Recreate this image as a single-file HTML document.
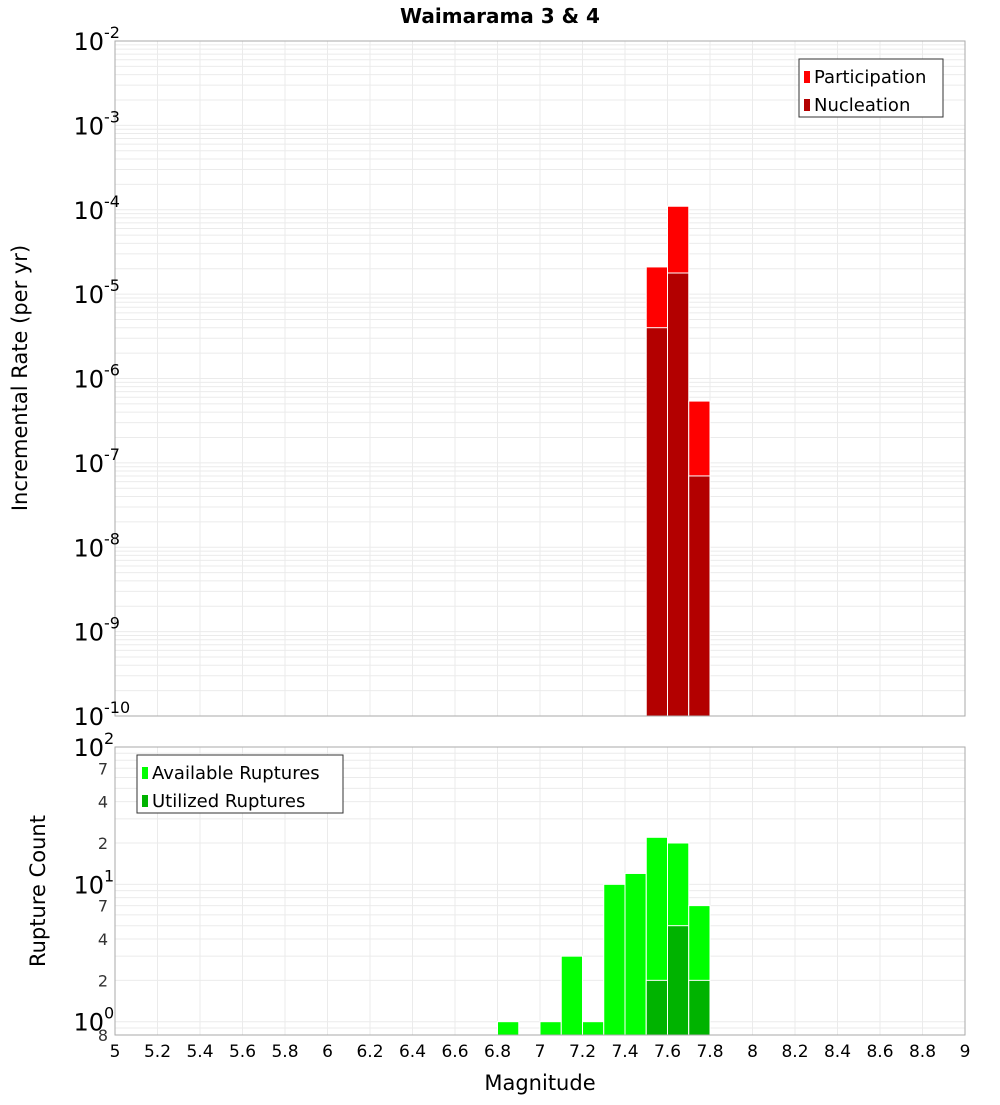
<!DOCTYPE html>
<html><head><meta charset="utf-8"><style>
body{margin:0;background:#fff;font-family:"Liberation Sans","DejaVu Sans",sans-serif}
svg text{font-family:"DejaVu Sans","Liberation Sans",sans-serif}
</style></head><body>
<svg id="c" width="1000" height="1100" xmlns="http://www.w3.org/2000/svg">
<text x="500" y="23" text-anchor="middle" font-size="20" font-weight="bold">Waimarama 3 &amp; 4</text>
<g id="topg"></g><g id="botg"></g>
<text x="540" y="1090" text-anchor="middle" font-size="21">Magnitude</text>
<text transform="translate(27,378) rotate(-90)" text-anchor="middle" font-size="21">Incremental Rate (per yr)</text>
<text transform="translate(45,891) rotate(-90)" text-anchor="middle" font-size="21">Rupture Count</text>
</svg>
<script>
const binCenters=[6.85,7.05,7.15,7.25,7.35,7.45,7.55,7.65,7.75];
const participation=[null,null,null,null,null,null,2.1e-5,1.1e-4,5.4e-7];
const nucleation=[null,null,null,null,null,null,4.0e-6,1.78e-5,7.0e-8];
const available=[1,1,3,1,10,12,22,20,7];
const utilized=[0,0,0,0,0,0,2,5,2];
const xTicks=[5,5.2,5.4,5.6,5.8,6,6.2,6.4,6.6,6.8,7,7.2,7.4,7.6,7.8,8,8.2,8.4,8.6,8.8,9];
const topDecades=[-10,-9,-8,-7,-6,-5,-4,-3,-2];
const botDecades=[0,1,2];
const botMinor=[2,4,7];

const NS="http://www.w3.org/2000/svg";
const X0=115,X1=965;
const xs=m=>X0+(m-5)/4*(X1-X0);
const T0=41,T1=716,B0=747,B1=1035;
const yTop=v=>T0+(-2-Math.log10(v))/8*(T1-T0);
const bLo=Math.log10(0.8),bHi=2;
const yBot=v=>B0+(bHi-Math.log10(v))/(bHi-bLo)*(B1-B0);
function mk(p,t,a){const e=document.createElementNS(NS,t);for(const k in a)e.setAttribute(k,a[k]);p.appendChild(e);return e;}
const gTop=document.getElementById('topg'),gBot=document.getElementById('botg');

for(let d=-10;d<-2;d++)for(let k=1;k<10;k++){const y=yTop(k*Math.pow(10,d));
 const l=mk(gTop,'line',{x1:X0,x2:X1,y1:y,y2:y,stroke:'#ebebeb','stroke-width':1});
 
 }
for(let d=-1;d<2;d++)for(let k=1;k<10;k++){const v=k*Math.pow(10,d);if(v<0.8)continue;const y=yBot(v);
 const l=mk(gBot,'line',{x1:X0,x2:X1,y1:y,y2:y,stroke:'#ebebeb','stroke-width':1});
 
 }
xTicks.forEach(t=>{const x=xs(t);
 const a=mk(gTop,'line',{x1:x,x2:x,y1:T0,y2:T1,stroke:'#ebebeb'});
 
 
 const b=mk(gBot,'line',{x1:x,x2:x,y1:B0,y2:B1,stroke:'#ebebeb'});
 
 
 const tx=mk(gBot,'text',{x:x,y:1057,'text-anchor':'middle','font-size':17});tx.textContent=String(t);
 
 });

binCenters.forEach((c,i)=>{const xl=xs(c-0.05),w=xs(c+0.05)-xl;
 if(participation[i]){const y=yTop(participation[i]);
  const r=mk(gTop,'rect',{x:xl,y:y,width:w,height:T1-y,fill:'#ff0000',stroke:'#fff','stroke-width':1});
  
  }
 if(nucleation[i]){const y=yTop(nucleation[i]);
  const r=mk(gTop,'rect',{x:xl,y:y,width:w,height:T1-y,fill:'#b30000',stroke:'#fff','stroke-width':1});
  
  }
 if(available[i]){const y=yBot(available[i]);
  const r=mk(gBot,'rect',{x:xl,y:y,width:w,height:B1-y,fill:'#00ff00',stroke:'#fff','stroke-width':1});
  
  }
 if(utilized[i]){const y=yBot(utilized[i]);
  const r=mk(gBot,'rect',{x:xl,y:y,width:w,height:B1-y,fill:'#00b300',stroke:'#fff','stroke-width':1});
  
  }
});
const f1=mk(gTop,'rect',{x:X0,y:T0,width:X1-X0,height:T1-T0,fill:'none',stroke:'#aaa'});


const f2=mk(gBot,'rect',{x:X0,y:B0,width:X1-X0,height:B1-B0,fill:'none',stroke:'#aaa'});



function decLabel(g,y,exp,name){const t=mk(g,'text',{x:104,y:y+9,'text-anchor':'end','font-size':24});
 t.textContent='10';
 
 
 const s=mk(g,'text',{x:104,y:y-3,'font-size':16});s.textContent=String(exp);
 
 }
topDecades.forEach(d=>decLabel(gTop,yTop(Math.pow(10,d)),d,'top-y-tick-label'));
botDecades.forEach(d=>decLabel(gBot,yBot(Math.pow(10,d)),d,'bottom-y-tick-label'));
[0.8].concat(...[0,1].map(d=>botMinor.map(k=>k*Math.pow(10,d)))).forEach(v=>{
 const t=mk(gBot,'text',{x:108,y:yBot(v)+6,'text-anchor':'end','font-size':16,fill:'#333'});
 t.textContent=String(Math.round(v<1?v*10:v/Math.pow(10,Math.floor(Math.log10(v)))));
 
 });

function legend(g,x,y,w,items,name){const b=mk(g,'rect',{x:x,y:y,width:w,height:58,fill:'#fff',stroke:'#333'});
 
 
 items.forEach((it,i)=>{const r=mk(g,'rect',{x:x+5,y:y+12+i*28,width:6,height:12,fill:it[1]});
  
  
  const t=mk(g,'text',{x:x+15,y:y+24+i*28,'font-size':18});t.textContent=it[0];
  
  });}
legend(gTop,799,59,144,[['Participation','#ff0000'],['Nucleation','#b30000']],'top-legend');
legend(gBot,137,755,206,[['Available Ruptures','#00ff00'],['Utilized Ruptures','#00b300']],'bottom-legend');
</script>
</body></html>
